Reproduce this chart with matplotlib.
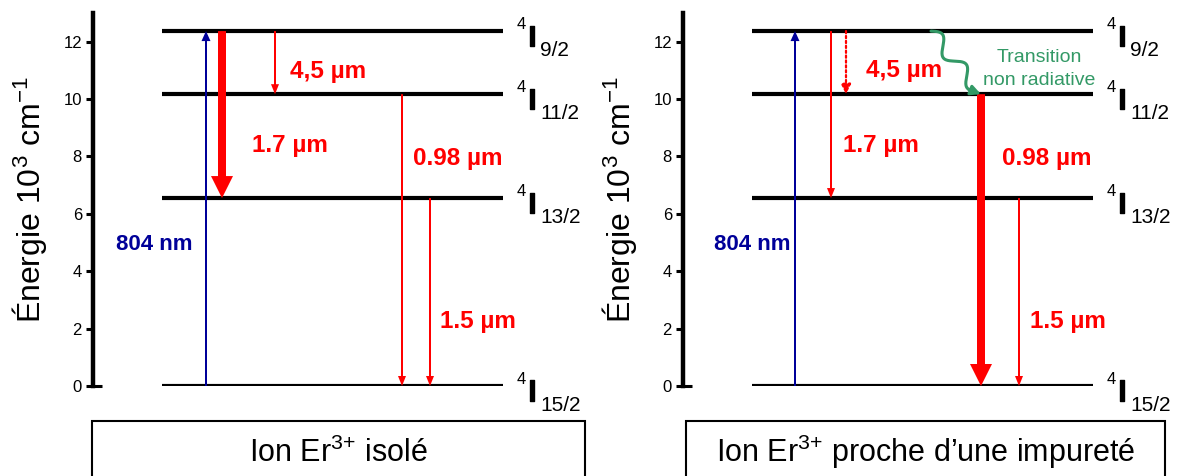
import numpy as np
import matplotlib
matplotlib.use('Agg')
import matplotlib.pyplot as plt
import matplotlib.patheffects as pe
from matplotlib.patches import FancyArrowPatch, Rectangle, ArrowStyle
from matplotlib.lines import Line2D
from matplotlib.transforms import IdentityTransform

plt.rcParams['font.family'] = ['Liberation Sans', 'DejaVu Sans']
plt.rcParams['mathtext.fontset'] = 'custom'
plt.rcParams['mathtext.rm'] = 'Liberation Sans'
plt.rcParams['mathtext.it'] = 'Liberation Sans:italic'
plt.rcParams['mathtext.bf'] = 'Liberation Sans:bold'

# ---------------- data ----------------
level_energies = [0.0, 6.55, 10.17, 12.37]          # 10^3 cm-1
level_subscripts = ['15/2', '13/2', '11/2', '9/2']
yticks = [0, 2, 4, 6, 8, 10, 12]
panel_titles = ['Ion Er$^{3{+}}$ isolé', 'Ion Er$^{3{+}}$ proche d\u2019une impureté']
pump_label = '804 nm'
pump_upper = 3
emission_labels = ['4,5 µm', '1.7 µm', '0.98 µm', '1.5 µm']
emission_upper = [3, 3, 2, 1]
emission_lower = [2, 1, 0, 0]
panel_styles = [['thin', 'thick', 'thin', 'thin'],
                ['dotted', 'thin', 'thick', 'thin']]
nonrad_lines = ['Transition', 'non radiative']
nonrad_upper, nonrad_lower = 3, 2

# ---------------- layout (pixels) ----------------
W, H, DPI = 1178, 476, 100
spines_px = [93, 683]
ax_w_px = 500
y0_px, ytop_px = 386, 13
ymax = 13.0
ppu = (y0_px - ytop_px) / ymax
lvl_x0, lvl_x1 = 69, 410
pump_x = [113, 112]
emis_x = [[182, 129, 309, 337], [163, 148, 298, 336]]
nonrad_x0 = 248
pump_lab_pos = [(100, 250), (107, 250)]
emis_lab_pos = [[(197, 78), (159, 152), (320, 165), (347, 328)],
                [(183, 77), (160, 152), (319, 165), (347, 328)]]
nonrad_lab_pos = [(356, 62), (356, 85)]

RED = '#ff0000'
BLUE = '#000099'
GREEN = '#339966'
PX2PT = 72.0 / DPI


def ypx(v):
    return (y0_px - v) / ppu


def arrow(ax, x, ya, yb, color, tail, hw, hl, z=3):
    st = ArrowStyle.Simple(head_length=hl * PX2PT, head_width=hw * PX2PT,
                           tail_width=tail * PX2PT)
    p = FancyArrowPatch((x, ya), (x, yb), arrowstyle=st, mutation_scale=1,
                        shrinkA=0, shrinkB=0, color=color, lw=0, zorder=z,
                        clip_on=False)
    ax.add_patch(p)


fig = plt.figure(figsize=(W / DPI, H / DPI), dpi=DPI)

for i, sx in enumerate(spines_px):
    ax = fig.add_axes([sx / W, (H - y0_px) / H, ax_w_px / W, (y0_px - ytop_px) / H])
    ax.set_xlim(0, ax_w_px)
    ax.set_ylim(0, ymax)
    for s in ['top', 'right', 'bottom']:
        ax.spines[s].set_visible(False)
    ax.spines['left'].set_linewidth(3.2)
    ax.set_xticks([])
    ax.set_yticks(yticks)
    ax.set_yticklabels([str(t) for t in yticks])
    ax.tick_params(axis='y', direction='out', length=5, width=2.2, pad=3,
                   labelsize=12)
    ax.set_ylabel('Énergie 10$^3$ cm$^{-1}$', fontsize=23, labelpad=10)
    # zero-level stub to the right of the axis
    ax.plot([0, 9], [0, 0], color='black', lw=2.2, solid_capstyle='butt',
            clip_on=False)

    # energy levels
    ax.hlines(level_energies, lvl_x0, lvl_x1, color='black', lw=3, zorder=2)
    for e, sub in zip(level_energies, level_subscripts):
        ax.annotate('4', (lvl_x1, e), xytext=(14, 2), textcoords='offset pixels',
                    fontsize=12, ha='left', va='baseline')
        ax.annotate('I', (lvl_x1, e), xytext=(25, -15), textcoords='offset pixels',
                    fontsize=21.5, fontweight='bold', ha='left', va='baseline',
                    path_effects=[pe.withStroke(linewidth=1.0, foreground='black')])
        ax.annotate(sub, (lvl_x1, e), xytext=(37, -25), textcoords='offset pixels',
                    fontsize=15, ha='left', va='baseline')

    # pump
    arrow(ax, pump_x[i], level_energies[0], level_energies[pump_upper], BLUE, 2, 9, 10)
    px_, py_ = pump_lab_pos[i]
    ax.text(px_, ypx(py_), pump_label, color=BLUE, fontsize=16, fontweight='bold',
            ha='right', va='baseline')

    # emissions
    for k in range(4):
        x = emis_x[i][k]
        ya = level_energies[emission_upper[k]]
        yb = level_energies[emission_lower[k]]
        st = panel_styles[i][k]
        if st == 'thin':
            arrow(ax, x, ya, yb, RED, 2, 8, 10)
        elif st == 'thick':
            arrow(ax, x, ya, yb, RED, 8, 22, 22)
        else:
            p = FancyArrowPatch((x, ya), (x, yb),
                                arrowstyle=ArrowStyle('-|>', head_length=8 * PX2PT,
                                                      head_width=4 * PX2PT),
                                mutation_scale=1, shrinkA=0, shrinkB=0,
                                color=RED, lw=1.6, linestyle=(0, (1, 1.2)), zorder=3)
            ax.add_patch(p)
        lx, ly = emis_lab_pos[i][k]
        ax.text(lx, ypx(ly), emission_labels[k], color=RED, fontsize=17.5,
                fontweight='bold', ha='left', va='baseline')

    if i == 1:
        # wavy non-radiative relaxation
        xe = emis_x[1][2]
        a = ax.transData.transform((nonrad_x0, level_energies[nonrad_upper]))
        b = ax.transData.transform((xe, level_energies[nonrad_lower]))
        d = b - a
        L = np.hypot(*d)
        u = d / L
        n = np.array([-u[1], u[0]])
        t = np.linspace(0, 0.86, 200)
        amp = 7.0
        pts = a[None, :] + t[:, None] * d[None, :] + (amp * np.sin(2 * np.pi * 2.1 * t))[:, None] * n[None, :]
        fig.add_artist(Line2D(pts[:, 0], pts[:, 1], transform=IdentityTransform(),
                              color=GREEN, lw=2.2, solid_capstyle='round'))
        st = ArrowStyle('-|>', head_length=8 * PX2PT, head_width=4 * PX2PT)
        fig.add_artist(FancyArrowPatch(tuple(pts[-1]), tuple(b), arrowstyle=st,
                                       mutation_scale=1, shrinkA=0, shrinkB=0,
                                       color=GREEN, lw=2.2,
                                       transform=IdentityTransform()))
        for txt, (lx, ly) in zip(nonrad_lines, nonrad_lab_pos):
            ax.text(lx, ypx(ly), txt, color=GREEN, fontsize=14, ha='center',
                    va='baseline')

# bottom boxes
boxes_px = [(92, 585), (686, 1165)]
box_top = 421
text_base = 462
for (x0, x1), title in zip(boxes_px, panel_titles):
    fig.add_artist(Rectangle((x0 / W, -0.1), (x1 - x0) / W, (H - box_top) / H + 0.1,
                             transform=fig.transFigure, fill=False,
                             edgecolor='black', lw=1.5))
    fig.text((x0 + x1) / 2 / W, (H - text_base) / H, title, fontsize=22,
             ha='center', va='baseline')

fig.savefig('out.png', dpi=DPI)
